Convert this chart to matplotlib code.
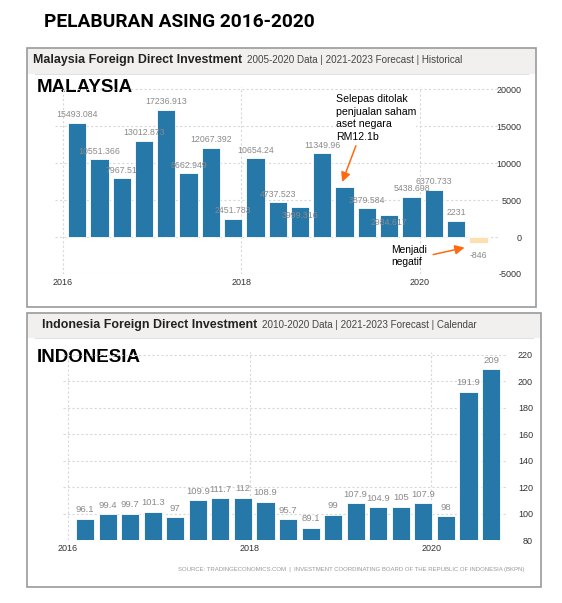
import matplotlib.pyplot as plt
from matplotlib.patches import Rectangle

# Malaysia FDI, quarterly 2016Q1 - 2020Q3 (RM million), last value is forecast
my_values = [15493.084, 10551.366, 7967.51, 13012.873, 17236.913, 8662.949,
             12067.392, 2451.783, 10654.24, 4737.523, 3999.316, 11349.96,
             6757, 3879.584, 2984.617, 5438.698, 6370.733, 2231, -846]
my_labels = ['15493.084', '10551.366', '7967.51', '13012.873', '17236.913',
             '8662.949', '12067.392', '2451.783', '10654.24', '4737.523',
             '3999.316', '11349.96', '', '3879.584', '2984.617', '5438.698',
             '6370.733', '2231', '-846']
my_forecast = [False] * 18 + [True]
my_yticks = [-5000, 0, 5000, 10000, 15000, 20000]

# Indonesia FDI, quarterly 2016Q1 - 2020Q3 (IDR trillion)
id_values = [96.1, 99.4, 99.7, 101.3, 97, 109.9, 111.7, 112, 108.9, 95.7,
             89.1, 99, 107.9, 104.9, 105, 107.9, 98, 191.9, 209]
id_yticks = [80, 100, 120, 140, 160, 180, 200, 220]

year_labels = ['2016', '2018', '2020']

BLUE = '#2678a8'
PEACH = '#fde0b0'
ORANGE = '#ff6a10'
GRID = '#d8d8d8'
W, H = 562, 603

plt.rcParams['font.family'] = ['Liberation Sans', 'DejaVu Sans']

fig = plt.figure(figsize=(W / 100, H / 100), dpi=100)


def px_axes(x0, y0, x1, y1):
    return fig.add_axes([x0 / W, 1 - y1 / H, (x1 - x0) / W, (y1 - y0) / H])


# background layer in pixel coordinates
bg = px_axes(0, 0, W, H)
bg.set_xlim(0, W)
bg.set_ylim(H, 0)
bg.axis('off')

bg.text(179, 22, 'PELABURAN ASING 2016-2020', ha='center', va='center',
        fontsize=13.8, fontweight='bold', family=['Roboto', 'DejaVu Sans'])

# panel frames
for (x0, y0, x1, y1, hb) in [(27, 48, 536, 307, 74), (27, 313, 541, 587, 338)]:
    bg.add_patch(Rectangle((x0, y0), x1 - x0, hb - y0, facecolor='#f1f0ee',
                           edgecolor='none'))
    bg.add_patch(Rectangle((x0, y0), x1 - x0, y1 - y0, facecolor='none',
                           edgecolor='#9a9a9a', lw=1.2))
    bg.plot([x0 + 8, x1 - 8], [hb, hb], color='#e2e2e2', lw=0.8)

bg.text(33, 60, 'Malaysia Foreign Direct Investment', fontsize=8.9,
        fontweight='bold', color='#222', va='center')
bg.text(247, 60, '2005-2020 Data | 2021-2023 Forecast | Historical',
        fontsize=7.1, color='#444', va='center')
bg.text(42, 325, 'Indonesia Foreign Direct Investment', fontsize=8.9,
        fontweight='bold', color='#222', va='center')
bg.text(262, 325, '2010-2020 Data | 2021-2023 Forecast | Calendar',
        fontsize=7.1, color='#444', va='center')
bg.text(524, 569, 'SOURCE: TRADINGECONOMICS.COM  |  INVESTMENT COORDINATING '
        'BOARD OF THE REPUBLIC OF INDONESIA (BKPN)', ha='right', va='center',
        fontsize=4.3, color='#999')


def style_axes(ax, pad_pt):
    for s in ax.spines.values():
        s.set_visible(False)
    ax.yaxis.tick_right()
    ax.tick_params(axis='y', length=0, pad=pad_pt, labelsize=6.5,
                   labelcolor='#333')
    ax.tick_params(axis='x', length=0, pad=3, labelsize=6.5,
                   labelcolor='#333')
    for lab in ax.get_yticklabels():
        lab.set_ha('right')
    ax.grid(True, color=GRID, ls=(0, (2, 2)), lw=0.8)
    ax.set_axisbelow(True)
    ax.patch.set_alpha(0)


# ---- Malaysia ----
ax1 = px_axes(55, 87, 498, 274)
xs = list(range(len(my_values)))
colors = [PEACH if f else BLUE for f in my_forecast]
ax1.bar(xs, my_values, width=0.82, color=colors, edgecolor='white', lw=0.6)
ax1.set_xlim(-0.99, 18.88)
ax1.set_ylim(-5000, 20300)
ax1.set_yticks(my_yticks)
ax1.set_yticklabels([str(t) for t in my_yticks])
ax1.set_xticks([-0.63, 7.37, 15.37])
ax1.set_xticklabels(year_labels)
style_axes(ax1, 17)

below = {10, 14}
for i, (v, lab) in enumerate(zip(my_values, my_labels)):
    if not lab:
        continue
    if v < 0:
        y_off = -12
    elif i in below:
        y_off = -8
    else:
        y_off = 8
    ax1.annotate(lab, (i, v), xytext=(0, y_off),
                 textcoords='offset pixels', ha='center', va='center',
                 fontsize=6.3, color='#8a8a8a')

ax1.text(11.6, 19300, 'Selepas ditolak\npenjualan saham\naset negara\nRM12.1b',
         fontsize=7.6, va='top', ha='left', linespacing=1.3,
         bbox=dict(facecolor='white', edgecolor='none', pad=0), zorder=5)
ax1.annotate('', xy=(11.85, 7100), xytext=(12.55, 12700),
             arrowprops=dict(arrowstyle='-|>', color=ORANGE, lw=1.1,
                             mutation_scale=14), zorder=6)
ax1.text(14.1, -2550, 'Menjadi\nnegatif', fontsize=7.4, va='center',
         ha='left', linespacing=1.3)
ax1.annotate('', xy=(17.5, -1350), xytext=(15.85, -2450),
             arrowprops=dict(arrowstyle='-|>', color=ORANGE, lw=1.1,
                             mutation_scale=14))

# ---- Indonesia ----
ax2 = px_axes(63, 352, 508, 540)
ax2.bar(xs, [v - 80 for v in id_values], bottom=80, width=0.8, color=BLUE,
        edgecolor='white', lw=0.6)
ax2.set_xlim(-0.975, 18.75)
ax2.set_ylim(80, 222)
ax2.set_yticks(id_yticks)
ax2.set_yticklabels([str(t) for t in id_yticks])
ax2.set_xticks([-0.75, 7.3, 15.35])
ax2.set_xticklabels(year_labels)
style_axes(ax2, 18)
for i, v in enumerate(id_values):
    ax2.annotate(f'{v:g}', (i, v), xytext=(0, 9), textcoords='offset pixels',
                 ha='center', va='center', fontsize=6.8, color='#8a8a8a')

bg.text(37, 88, 'MALAYSIA', fontsize=13.5, fontweight='bold', va='center',
        zorder=10)
bg.text(37, 358, 'INDONESIA', fontsize=13.5, fontweight='bold', va='center',
        zorder=10)
bg.set_zorder(-1)

fig.savefig('out.png', dpi=100)
